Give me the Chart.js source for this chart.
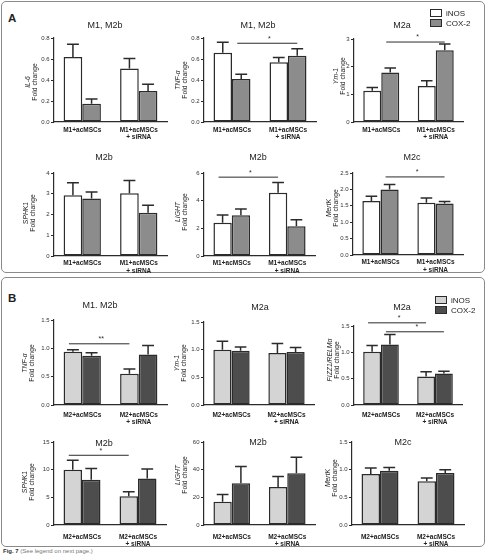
<!DOCTYPE html>
<html>
<head>
<meta charset="utf-8">
<script src="https://cdn.jsdelivr.net/npm/chart.js@4.4.1/dist/chart.umd.min.js"></script>
<style>
body { margin: 0; background: #fff; font-family: Arial, "Liberation Sans", sans-serif; }
#fig { position: relative; width: 485px; height: 556px; overflow: hidden; }
.frame { position: absolute; border: 1px solid #8a8a8a; border-radius: 5px; }
.txt { position: absolute; white-space: nowrap; color: #222; }
.title { font-size: 9px; transform: translate(-50%, -50%); }
.ylab { font-size: 6.8px; line-height: 6.8px; text-align: center; transform: translate(-50%, -50%) rotate(-90deg); }
.ylab i { display: block; }
.letter { font-size: 11.5px; font-weight: bold; }
.box { position: absolute; width: 10px; height: 6px; border: 1.2px solid #2b2b2b; }
.legtxt { font-size: 8px; transform: translateY(-50%); }
canvas { position: absolute; }
</style>
</head>
<body>
<div id="fig">
  <div class="frame" style="left:1px;top:1px;width:482px;height:270px"></div>
  <div class="frame" style="left:1px;top:277px;width:482px;height:268px"></div>
  <div class="txt letter" style="left:8px;top:12px">A</div>
  <div class="txt letter" style="left:8px;top:292px">B</div>
  <div class="txt" style="left:3px;top:548px;font-size:6px;color:#777"><b style="color:#333">Fig. 7</b> (See legend on next page.)</div>
</div>
<script>
var labelsA = ["M1+acMSCs", ["M1+acMSCs", "+ siRNA"]];
var labelsB = ["M2+acMSCs", ["M2+acMSCs", "+ siRNA"]];
var series  = ["iNOS", "COX-2"];

// panel A : M1 macrophages
var il6Inos  = [0.62, 0.51],  il6InosSem  = [0.12, 0.095];
var il6Cox   = [0.175, 0.295], il6CoxSem  = [0.045, 0.065];
var tnfAInos = [0.66, 0.57],  tnfAInosSem = [0.10, 0.045];
var tnfACox  = [0.41, 0.63],  tnfACoxSem  = [0.045, 0.068];
var ymAInos  = [1.13, 1.30],  ymAInosSem  = [0.12, 0.19];
var ymACox   = [1.79, 2.59],  ymACoxSem   = [0.16, 0.23];
var sphAInos = [2.93, 3.02],  sphAInosSem = [0.60, 0.62];
var sphACox  = [2.77, 2.08],  sphACoxSem  = [0.32, 0.36];
var ligAInos = [2.41, 4.58],  ligAInosSem = [0.56, 0.74];
var ligACox  = [2.94, 2.15],  ligACoxSem  = [0.46, 0.47];
var merAInos = [1.65, 1.59],  merAInosSem = [0.14, 0.15];
var merACox  = [2.00, 1.57],  merACoxSem  = [0.15, 0.06];

// panel B : M2 macrophages
var tnfBInos = [0.94, 0.55],  tnfBInosSem = [0.035, 0.085];
var tnfBCox  = [0.87, 0.89],  tnfBCoxSem  = [0.05, 0.16];
var ymBInos  = [1.00, 0.94],  ymBInosSem  = [0.15, 0.17];
var ymBCox   = [0.98, 0.96],  ymBCoxSem   = [0.07, 0.08];
var fizInos  = [1.01, 0.54],  fizInosSem  = [0.12, 0.09];
var fizCox   = [1.15, 0.60],  fizCoxSem   = [0.19, 0.04];
var sphBInos = [10.0, 5.2],   sphBInosSem = [1.7, 0.8];
var sphBCox  = [8.2, 8.4],    sphBCoxSem  = [2.0, 1.7];
var ligBInos = [16.8, 27.5],  ligBInosSem = [5.2, 7.5];
var ligBCox  = [30.2, 37.5],  ligBCoxSem  = [12.0, 11.5];
var merBInos = [0.92, 0.79],  merBInosSem = [0.11, 0.06];
var merBCox  = [0.98, 0.94],  merBCoxSem  = [0.06, 0.06];

// significance bars : dataset index, height (data units), mark
var tnfASig = [{ ds: 1, at: 0.75, mark: "*" }];
var ymASig  = [{ ds: 1, at: 2.89, mark: "*" }];
var ligASig = [{ ds: 0, at: 5.7,  mark: "*" }];
var merASig = [{ ds: 1, at: 2.38, mark: "*" }];
var tnfBSig = [{ ds: 0, at: 1.08, mark: "**" }];
var fizSig  = [{ ds: 0, at: 1.56, mark: "*" }, { ds: 1, at: 1.39, mark: "*" }];
var sphBSig = [{ ds: 0, at: 12.6, mark: "*" }];

var coloursA = ["#ffffff", "#8c8c8c"];
var coloursB = ["#d4d4d4", "#4d4d4d"];
var ink = "#2b2b2b";

var fig = document.getElementById("fig");

function addText(cls, html, x, y) {
  var d = document.createElement("div");
  d.className = "txt " + cls;
  d.style.left = x + "px";
  d.style.top = y + "px";
  d.innerHTML = html;
  fig.appendChild(d);
}

function legend(x, y, colours) {
  series.forEach(function(name, i) {
    var b = document.createElement("div");
    b.className = "box";
    b.style.left = x + "px";
    b.style.top = (y + i * 9.5 - 4) + "px";
    b.style.background = colours[i];
    fig.appendChild(b);
    addText("legtxt", name, x + 16, y + i * 9.5);
  });
}

function panel(s) {
  var padL = 34, padT = 22, padR = 6, padB = 28;
  var cv = document.createElement("canvas");
  cv.width = s.w + padL + padR;
  cv.height = s.h + padT + padB;
  cv.style.left = (s.x - padL) + "px";
  cv.style.top = (s.y - padT) + "px";
  fig.appendChild(cv);

  var bars = {
    id: "errorBars",
    afterDatasetsDraw: function(chart) {
      var ctx = chart.ctx, yScale = chart.scales.y;
      ctx.save();
      ctx.strokeStyle = ink;
      ctx.lineWidth = 1.5;
      chart.data.datasets.forEach(function(ds, di) {
        chart.getDatasetMeta(di).data.forEach(function(bar, i) {
          var top = yScale.getPixelForValue(ds.data[i] + ds.sem[i]);
          var half = bar.width * 0.32;
          ctx.beginPath();
          ctx.moveTo(bar.x, bar.y);
          ctx.lineTo(bar.x, top);
          ctx.moveTo(bar.x - half, top);
          ctx.lineTo(bar.x + half, top);
          ctx.stroke();
        });
      });
      ctx.lineWidth = 1;
      ctx.fillStyle = ink;
      ctx.font = "7px Arial, 'Liberation Sans'";
      ctx.textAlign = "center";
      ctx.textBaseline = "bottom";
      (s.sig || []).forEach(function(g) {
        var pts = chart.getDatasetMeta(g.ds).data;
        var yy = yScale.getPixelForValue(g.at);
        ctx.beginPath();
        ctx.moveTo(pts[0].x - 4, yy);
        ctx.lineTo(pts[1].x, yy);
        ctx.stroke();
        ctx.fillText(g.mark, (pts[0].x + pts[1].x) / 2, yy - 1);
      });
      ctx.restore();
    }
  };

  new Chart(cv, {
    type: "bar",
    data: {
      labels: s.labels,
      datasets: [
        { label: series[0], data: s.inos, sem: s.inosSem, backgroundColor: s.colours[0] },
        { label: series[1], data: s.cox,  sem: s.coxSem,  backgroundColor: s.colours[1] }
      ]
    },
    options: {
      responsive: false,
      animation: false,
      layout: { autoPadding: false, padding: { top: padT, right: padR, left: 0, bottom: 0 } },
      datasets: { bar: { borderColor: ink, borderWidth: 1.5, borderSkipped: false, categoryPercentage: 0.66, barPercentage: 1 } },
      plugins: { legend: { display: false }, tooltip: { enabled: false } },
      scales: {
        x: {
          grid: { display: false, drawTicks: false },
          border: { color: ink, width: 1.2 },
          afterFit: function(sc) { sc.height = padB; },
          ticks: {
            color: "#222", padding: s.labelPad, maxRotation: 0, autoSkip: false,
            font: { family: "Arial, 'Liberation Sans'", size: 6.5, weight: "bold", lineHeight: 1.2 }
          }
        },
        y: {
          min: 0, max: s.max,
          grid: { drawOnChartArea: false, drawTicks: true, tickLength: 3, color: ink },
          border: { color: ink, width: 1.2 },
          afterFit: function(sc) { sc.width = padL; },
          ticks: {
            stepSize: s.step, padding: 1.5, color: "#333",
            font: { family: "Arial, 'Liberation Sans'", size: 6 },
            callback: function(v) { return v.toFixed(s.dec); }
          }
        }
      }
    },
    plugins: [bars]
  });

  addText("title", s.title, s.tx, s.ty);
  addText("ylab", "<i>" + s.gene + "</i>Fold change", s.gx, s.gy);
}

panel({ x: 53.5, y: 38, w: 113, h: 84, max: 0.8, step: 0.2, dec: 1, labels: labelsA, labelPad: 4, colours: coloursA,
  inos: il6Inos, inosSem: il6InosSem, cox: il6Cox, coxSem: il6CoxSem,
  title: "M1, M2b", tx: 105, ty: 25, gene: "IL-6", gx: 32, gy: 82 });
panel({ x: 203.5, y: 38, w: 112, h: 84, max: 0.8, step: 0.2, dec: 1, labels: labelsA, labelPad: 4, colours: coloursA,
  inos: tnfAInos, inosSem: tnfAInosSem, cox: tnfACox, coxSem: tnfACoxSem, sig: tnfASig,
  title: "M1, M2b", tx: 258, ty: 25, gene: "TNF-α", gx: 182, gy: 80 });
panel({ x: 354, y: 39, w: 109, h: 83, max: 3, step: 1, dec: 0, labels: labelsA, labelPad: 4, colours: coloursA,
  inos: ymAInos, inosSem: ymAInosSem, cox: ymACox, coxSem: ymACoxSem, sig: ymASig,
  title: "M2a", tx: 402, ty: 25, gene: "Ym-1", gx: 340, gy: 76 });

panel({ x: 53.5, y: 173, w: 113, h: 83, max: 4, step: 1, dec: 0, labels: labelsA, labelPad: 3.5, colours: coloursA,
  inos: sphAInos, inosSem: sphAInosSem, cox: sphACox, coxSem: sphACoxSem,
  title: "M2b", tx: 104, ty: 157, gene: "SPHK1", gx: 30, gy: 213 });
panel({ x: 204, y: 173, w: 111, h: 83, max: 6, step: 2, dec: 0, labels: labelsA, labelPad: 3.5, colours: coloursA,
  inos: ligAInos, inosSem: ligAInosSem, cox: ligACox, coxSem: ligACoxSem, sig: ligASig,
  title: "M2b", tx: 258, ty: 157, gene: "LIGHT", gx: 182, gy: 212 });
panel({ x: 353, y: 173, w: 110, h: 82, max: 2.5, step: 0.5, dec: 1, labels: labelsA, labelPad: 3.5, colours: coloursA,
  inos: merAInos, inosSem: merAInosSem, cox: merACox, coxSem: merACoxSem, sig: merASig,
  title: "M2c", tx: 412, ty: 157, gene: "MertK", gx: 333, gy: 208 });

panel({ x: 53.5, y: 320, w: 113, h: 85, max: 1.5, step: 0.5, dec: 1, labels: labelsB, labelPad: 6, colours: coloursB,
  inos: tnfBInos, inosSem: tnfBInosSem, cox: tnfBCox, coxSem: tnfBCoxSem, sig: tnfBSig,
  title: "M1. M2b", tx: 100, ty: 305, gene: "TNF-α", gx: 29, gy: 363 });
panel({ x: 204, y: 322, w: 110, h: 83, max: 1.5, step: 0.5, dec: 1, labels: labelsB, labelPad: 6, colours: coloursB,
  inos: ymBInos, inosSem: ymBInosSem, cox: ymBCox, coxSem: ymBCoxSem,
  title: "M2a", tx: 260, ty: 307, gene: "Ym-1", gx: 181, gy: 363 });
panel({ x: 354, y: 326, w: 108, h: 79, max: 1.5, step: 0.5, dec: 1, labels: labelsB, labelPad: 6, colours: coloursB,
  inos: fizInos, inosSem: fizInosSem, cox: fizCox, coxSem: fizCoxSem, sig: fizSig,
  title: "M2a", tx: 402, ty: 307, gene: "FIZZ1/RELMα", gx: 334, gy: 360 });

panel({ x: 53.5, y: 442, w: 112, h: 83, max: 15, step: 5, dec: 0, labels: labelsB, labelPad: 8, colours: coloursB,
  inos: sphBInos, inosSem: sphBInosSem, cox: sphBCox, coxSem: sphBCoxSem, sig: sphBSig,
  title: "M2b", tx: 104, ty: 443, gene: "SPHK1", gx: 29, gy: 482 });
panel({ x: 204, y: 442, w: 111, h: 83, max: 60, step: 20, dec: 0, labels: labelsB, labelPad: 8, colours: coloursB,
  inos: ligBInos, inosSem: ligBInosSem, cox: ligBCox, coxSem: ligBCoxSem,
  title: "M2b", tx: 258, ty: 442, gene: "LIGHT", gx: 182, gy: 475 });
panel({ x: 352, y: 442, w: 112, h: 83, max: 1.5, step: 0.5, dec: 1, labels: labelsB, labelPad: 8, colours: coloursB,
  inos: merBInos, inosSem: merBInosSem, cox: merBCox, coxSem: merBCoxSem,
  title: "M2c", tx: 403, ty: 442, gene: "MertK", gx: 332, gy: 478 });

legend(430, 13, coloursA);
legend(435, 300, coloursB);
</script>
</body>
</html>
